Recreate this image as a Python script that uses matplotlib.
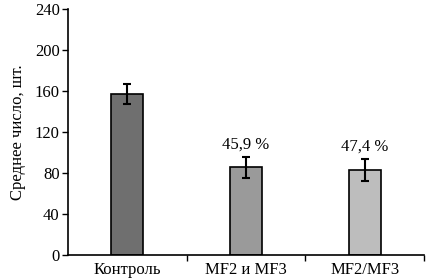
import matplotlib
matplotlib.use("Agg")
from matplotlib import pyplot as plt
import numpy as np

plt.rcParams['font.family'] = ['Liberation Serif', 'DejaVu Serif']

# data
categories = ['Контроль', 'MF2 и MF3', 'MF2/MF3']
means = [157, 85.5, 83]
errors = [10, 10, 10.5]
annotations = ['', '45,9 %', '47,4 %']
colors = ['#6f6f6f', '#9a9a9a', '#bdbdbd']

fig = plt.figure(figsize=(4.29, 2.8), dpi=100)
ax = fig.add_axes([0.1585, 0.089, 0.83, 0.879])

x = np.arange(len(categories))
ax.bar(x, means, width=0.27, color=colors, edgecolor='black', linewidth=1.2,
       yerr=errors, error_kw=dict(ecolor='black', elinewidth=1.5, capsize=3, capthick=1.5))

for xi, m, e, a in zip(x, means, errors, annotations):
    if a:
        ax.text(xi, m + e + 4, a, ha='center', va='bottom', fontsize=12)

ax.set_xlim(-0.5, 2.5)
ax.set_ylim(0, 240)
ax.set_yticks(range(0, 241, 40))
ax.set_xticks(x)
ax.set_xticklabels(categories, fontsize=12)
ax.tick_params(axis='x', length=0, pad=5)
ax.set_xticks([0.5, 1.5, 2.5], minor=True)
ax.tick_params(axis='x', which='minor', length=4, width=1, direction='out')
ax.tick_params(axis='y', labelsize=12, length=4, width=1, direction='out', pad=2)
ax.set_ylabel('Среднее число, шт.', fontsize=12, labelpad=6)

for s in ['top', 'right']:
    ax.spines[s].set_visible(False)
for s in ['left', 'bottom']:
    ax.spines[s].set_linewidth(1.2)

fig.savefig('out.png', dpi=100)
